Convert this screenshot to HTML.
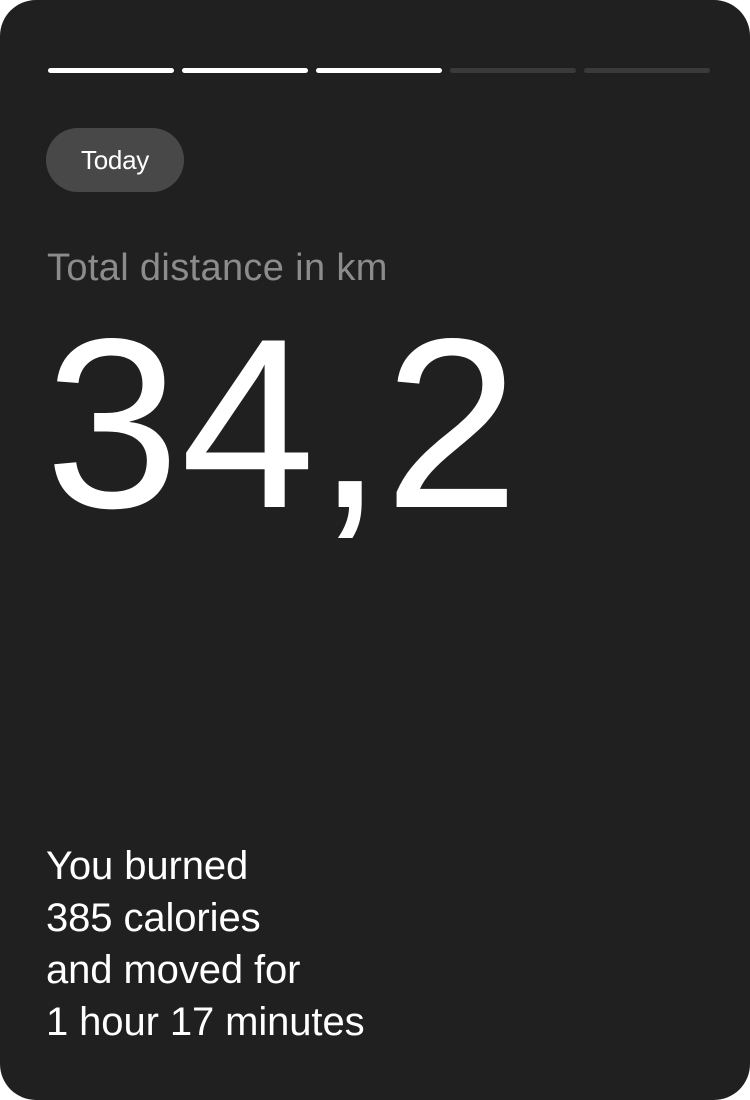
<!DOCTYPE html>
<html><head><meta charset="utf-8"><style>
html,body{margin:0;padding:0;background:#fff;}
body{width:750px;height:1100px;position:relative;overflow:hidden;font-family:"Liberation Sans",sans-serif;}
.card{position:absolute;left:0;top:0;width:750px;height:1100px;background:#202020;border-radius:36px;}
.seg{position:absolute;top:68px;height:5px;width:126px;border-radius:3px;}
.pill{position:absolute;left:46px;top:128px;width:138px;height:64px;border-radius:32px;background:#484848;color:#fff;font-size:26px;line-height:64px;text-align:center;letter-spacing:-0.3px;}
.label{position:absolute;left:47px;top:244px;color:#8c8c8c;font-size:38px;letter-spacing:0.35px;line-height:48px;white-space:nowrap;}
.big{position:absolute;left:45px;top:294px;color:#fff;font-size:242px;letter-spacing:1px;line-height:260px;white-space:nowrap;}
.foot{position:absolute;left:46px;top:840px;color:#fff;font-size:40px;line-height:52px;letter-spacing:-0.1px;white-space:nowrap;}
</style></head><body>
<div class="card">
<div class="seg" style="left:48px;background:#fff"></div>
<div class="seg" style="left:182px;background:#fff"></div>
<div class="seg" style="left:316px;background:#fff"></div>
<div class="seg" style="left:450px;background:#3a3a3a"></div>
<div class="seg" style="left:584px;background:#3a3a3a"></div>
<div class="pill">Today</div>
<div class="label">Total distance in km</div>
<div class="big">34,2</div>
<div class="foot">You burned<br>385 calories<br>and moved for<br>1 hour 17 minutes</div>
</div>
</body></html>
